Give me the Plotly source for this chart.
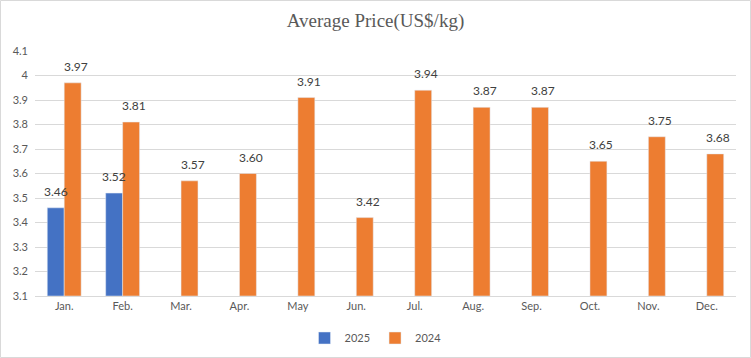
import plotly.graph_objects as go

months = ["Jan.", "Feb.", "Mar.", "Apr.", "May", "Jun.", "Jul.", "Aug.", "Sep.", "Oct.", "Nov.", "Dec."]
price_2025 = [3.46, 3.52, None, None, None, None, None, None, None, None, None, None]
price_2024 = [3.97, 3.81, 3.57, 3.60, 3.91, 3.42, 3.94, 3.87, 3.87, 3.65, 3.75, 3.68]
labels_2025 = ["3.46", "3.52"] + [""] * 10
labels_2024 = ["3.97", "3.81", "3.57", "3.60", "3.91", "3.42", "3.94", "3.87", "3.87", "3.65", "3.75", "3.68"]

W, H = 751, 358
ml, mr, mt, mb = 35, 15, 51, 62
pw, ph = W - ml - mr, H - mt - mb
BASE = 3.1
BARGAP = 0.42

fig = go.Figure()
fig.add_trace(go.Bar(x=months, y=[(v - BASE) if v is not None else None for v in price_2025], base=BASE,
                     name="2025", marker_color="#4472C4"))
fig.add_trace(go.Bar(x=months, y=[v - BASE for v in price_2024], base=BASE,
                     name="2024", marker_color="#ED7D31"))

annotations = []
off = (1 - BARGAP) / 4
for i, (v, t) in enumerate(zip(price_2025, labels_2025)):
    if v is not None:
        annotations.append(dict(x=i - off, y=v, xref="x", yref="y", text=t, showarrow=False,
                                yanchor="bottom", yshift=7, font=dict(size=12, color="#404040")))
for i, (v, t) in enumerate(zip(price_2024, labels_2024)):
    annotations.append(dict(x=i + off, y=v, xref="x", yref="y", text=t, showarrow=False,
                            yanchor="bottom", yshift=7, xshift=3, font=dict(size=12, color="#404040")))

fig.update_layout(
    width=W, height=H,
    margin=dict(l=ml, r=mr, t=mt, b=mb, autoexpand=False),
    paper_bgcolor="white", plot_bgcolor="white",
    font=dict(family="Lato, Liberation Sans, sans-serif", color="#595959", size=11),
    title=dict(text="Average Price(US$/kg)", x=0.5, xanchor="center", y=1 - 20 / H, yanchor="middle",
               font=dict(family="Liberation Serif, serif", size=19, color="#595959")),
    barmode="group", bargap=BARGAP, bargroupgap=0,
    showlegend=True,
    legend=dict(orientation="h", x=0.5, xanchor="center", xref="container", yref="container",
                y=1 - 338 / H, yanchor="middle",
                font=dict(size=11, color="#595959"), itemwidth=30, traceorder="normal"),
    xaxis=dict(showgrid=False, showline=True, linecolor="#d9d9d9", linewidth=1, ticks="",
               tickfont=dict(size=11, color="#595959")),
    yaxis=dict(range=[3.1, 4.1], dtick=0.1, tick0=3.1, showgrid=True, gridcolor="#d9d9d9", gridwidth=1,
               zeroline=False, showline=False, ticks="", tickfont=dict(size=11, color="#595959"),
               ticklabelstandoff=6),
    annotations=annotations,
    shapes=[dict(type="rect", xref="paper", yref="paper",
                 x0=-(ml - 0.5) / pw, x1=1 + (mr - 0.5) / pw,
                 y0=-(mb - 0.5) / ph, y1=1 + (mt - 0.5) / ph,
                 line=dict(color="#d9d9d9", width=1), fillcolor="rgba(0,0,0,0)", layer="below")],
)

fig.write_html("out.html", config={"displayModeBar": False},
               post_script="document.body.style.margin='0';document.body.style.overflow='hidden';")
